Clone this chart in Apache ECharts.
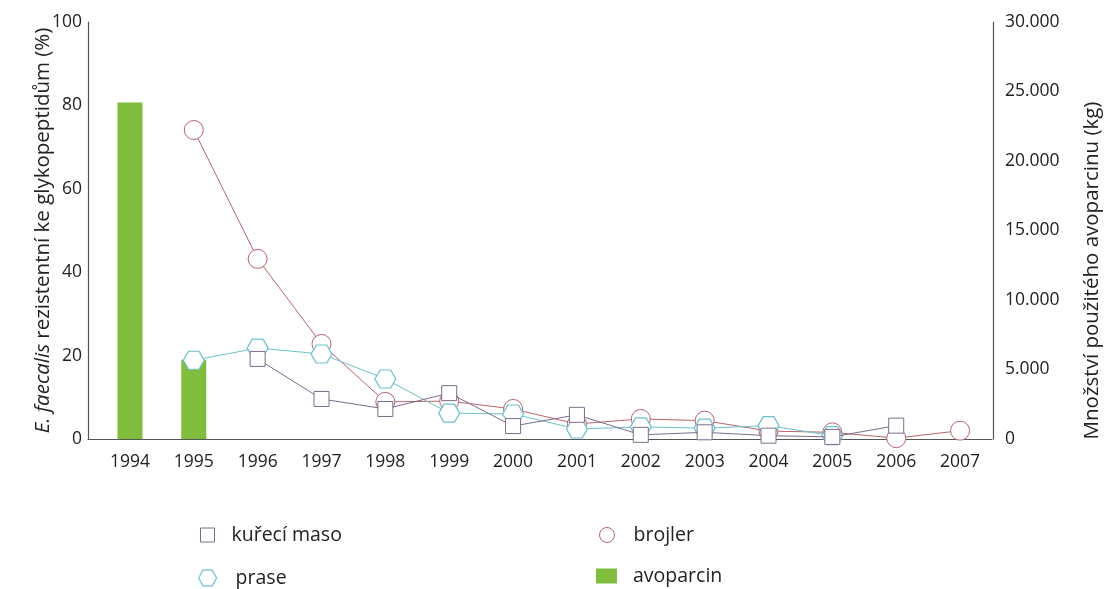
<!DOCTYPE html>
<html><head><meta charset="utf-8">
<script src="https://cdn.jsdelivr.net/npm/echarts@6/dist/echarts.min.js"></script>
<style>html,body{margin:0;padding:0;background:#fff}#c{width:1106px;height:589px}</style>
</head><body><div id="c"></div>
<script>
const years = ['1994','1995','1996','1997','1998','1999','2000','2001','2002','2003','2004','2005','2006','2007'];
const kureciMaso = [null, null, 19.2, 9.6, 7.2, 11.0, 3.1, 5.8, 1.0, 1.6, 0.8, 0.5, 3.2, null];
const brojler = [null, 74.1, 43.2, 22.8, 8.9, 9.1, 7.2, 3.6, 4.8, 4.4, 1.9, 1.6, 0.2, 2.0];
const prase = [null, 18.9, 21.8, 20.4, 14.4, 6.2, 6.0, 2.4, 2.9, 2.6, 3.2, 0.8, null, null];
const avoparcin = [24200, 5700, null, null, null, null, null, null, null, null, null, null, null, null];
const leftTicks = [0, 20, 40, 60, 80, 100];
const rightTicks = [0, 5000, 10000, 15000, 20000, 25000, 30000];

const FONT = '"Open Sans", "Noto Sans", sans-serif';
const AX = '#555';
const C_KM = '#7d6c8c', C_BR = '#b8636d', C_PR = '#6cc2cc', C_AV = '#80bd3c';
const hex = 'path://M25,0 L75,0 L100,43.3 L75,86.6 L25,86.6 L0,43.3 Z';
const fmtK = v => v === 0 ? '0' : String(v).replace(/\B(?=(\d{3})+(?!\d))/g, '.');

const chart = echarts.init(document.getElementById('c'));
const legendBase = (name, icon, left, top, style, w, h, gap) => ({
  data: [{ name: name, icon: icon }], left: left, top: top, orient: 'horizontal', padding: 0,
  itemWidth: w, itemHeight: h, itemStyle: style, selectedMode: false,
  textStyle: { fontFamily: FONT, fontSize: 19.5, color: '#222', padding: [0, 0, 0, gap] }
});
chart.setOption({
  animation: false,
  backgroundColor: '#fff',
  grid: [
    { left: 98, right: 114, top: 22, bottom: 150, containLabel: false, outerBoundsMode: 'none' },
    { left: 88, width: 10, top: 22, bottom: 150, containLabel: false, outerBoundsMode: 'none' }
  ],
  xAxis: [
    { type: 'category', data: years, gridIndex: 0, boundaryGap: true,
      axisLine: { lineStyle: { color: AX, width: 1.2 } }, axisTick: { show: false },
      axisLabel: { fontFamily: FONT, fontSize: 17.5, color: '#222', margin: 14 } },
    { type: 'value', gridIndex: 1, min: 0, max: 1,
      axisLine: { show: true, lineStyle: { color: AX, width: 1.2 } }, axisTick: { show: false },
      axisLabel: { show: false }, splitLine: { show: false } }
  ],
  yAxis: [
    { type: 'value', gridIndex: 0, min: leftTicks[0], max: leftTicks[leftTicks.length - 1], interval: 20,
      position: 'left', offset: 10,
      axisLine: { show: true, lineStyle: { color: AX, width: 1.2 } }, axisTick: { show: false },
      splitLine: { show: false },
      axisLabel: { fontFamily: FONT, fontSize: 17.5, color: '#222', margin: 6 },
      name: '{i|E. faecalis} rezistentní ke glykopeptidům (%)', nameLocation: 'middle', nameGap: 34, nameRotate: 90,
      nameMoveOverlap: false,
      nameTextStyle: { fontFamily: FONT, fontSize: 20.5, color: '#222',
        rich: { i: { fontFamily: FONT, fontSize: 20.5, fontStyle: 'italic', color: '#222' } } } },
    { type: 'value', gridIndex: 0, min: rightTicks[0], max: rightTicks[rightTicks.length - 1], interval: 5000,
      position: 'right', offset: 1,
      axisLine: { show: true, lineStyle: { color: AX, width: 1.2 } }, axisTick: { show: false },
      splitLine: { show: false },
      axisLabel: { fontFamily: FONT, fontSize: 17.5, color: '#222', margin: 12, formatter: fmtK, padding: [10, 0, 0, 0] },
      name: 'Množství použitého avoparcinu (kg)', nameLocation: 'middle', nameGap: 89, nameRotate: 90,
      nameTextStyle: { fontFamily: FONT, fontSize: 20.5, color: '#222', padding: [0, 80, 0, 0] } },
    { type: 'value', gridIndex: 1, show: false, min: 0, max: 1 }
  ],
  legend: [
    legendBase('kuřecí maso', 'rect', 200, 525, { color: '#fff', borderColor: C_KM, borderWidth: 1 }, 14, 14, 12),
    legendBase('brojler', 'circle', 599, 525, { color: '#fff', borderColor: C_BR, borderWidth: 1 }, 15, 15, 14),
    legendBase('prase', hex, 198, 568, { color: '#fff', borderColor: C_PR, borderWidth: 1.2 }, 18, 16, 14),
    legendBase('avoparcin', 'rect', 596, 566, { color: C_AV, borderWidth: 0 }, 21, 15, 11)
  ],
  series: [
    { name: 'avoparcin', type: 'bar', xAxisIndex: 0, yAxisIndex: 1, data: avoparcin, barWidth: 25,
      itemStyle: { color: C_AV }, z: 1 },
    { name: 'brojler', type: 'line', xAxisIndex: 0, yAxisIndex: 0, data: brojler, symbol: 'circle', symbolSize: 19,
      showAllSymbol: true, lineStyle: { color: C_BR, width: 1 },
      itemStyle: { color: '#fff', borderColor: C_BR, borderWidth: 1 }, z: 2 },
    { name: 'prase', type: 'line', xAxisIndex: 0, yAxisIndex: 0, data: prase, symbol: hex, symbolSize: [21, 18],
      showAllSymbol: true, lineStyle: { color: C_PR, width: 1 },
      itemStyle: { color: '#fff', borderColor: C_PR, borderWidth: 1.2 }, z: 3 },
    { name: 'kuřecí maso', type: 'line', xAxisIndex: 0, yAxisIndex: 0, data: kureciMaso, symbol: 'rect', symbolSize: 15,
      showAllSymbol: true, lineStyle: { color: C_KM, width: 1 },
      itemStyle: { color: '#fff', borderColor: C_KM, borderWidth: 1 }, z: 4 }
  ]
});
</script></body></html>
